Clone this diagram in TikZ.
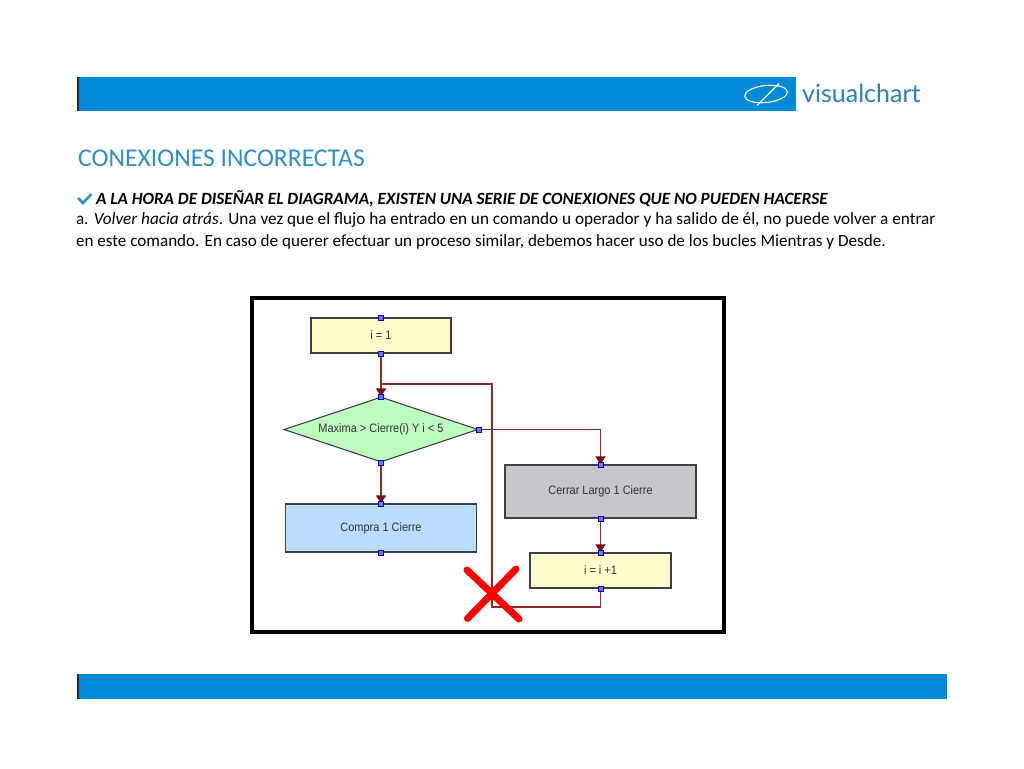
\documentclass[tikz,border=0pt]{standalone}
\usepackage{fontspec}
\setmainfont{Carlito}
\newfontfamily\flowfont[FakeStretch=0.9]{Liberation Sans}
\newfontfamily\logofont{Lato}
\usetikzlibrary{shapes.geometric,arrows.meta}
\definecolor{barblue}{HTML}{0089D6}
\definecolor{titleblue}{HTML}{2E8FCC}
\definecolor{conn}{HTML}{8E2A2E}
\definecolor{tip}{HTML}{7A0A0A}
\definecolor{yel}{HTML}{FFFCCB}
\definecolor{grn}{HTML}{BDFBC0}
\definecolor{lblue}{HTML}{B9DCFF}
\definecolor{gry}{HTML}{C6C7CC}
\tikzset{
  x=1pt,y=-1pt,
  bar/.style={fill=barblue,draw=none},
  flowbox/.style={draw=black!75,line width=1.1pt,inner sep=0pt,text=black!80,font=\flowfont\fontsize{12.2}{14}\selectfont},
  port/.style={draw=blue!75!black,fill=blue!55,line width=0.8pt,minimum size=5pt,inner sep=0pt,outer sep=0pt},
  wire/.style={draw=conn,line width=1.4pt},
  arrowwire/.style={wire,-{Triangle[length=8pt,width=10pt,fill=tip,color=tip]}},
  textline/.style={anchor=base west,inner sep=0pt,outer sep=0pt,font=\fontsize{17.2}{20}\selectfont},
}
\begin{document}
\begin{tikzpicture}
\useasboundingbox (0,0) rectangle (1024,768);
\fill[white] (0,0) rectangle (1024,768);
% header and footer bars
\fill[bar] (77,77) rectangle (796,110.5);
\fill[black!85] (77,77) rectangle (78.5,110.5);
\fill[bar] (77,674) rectangle (947,699);
\fill[black!85] (77,674) rectangle (78.5,699);
% logo
\draw[white,line width=1.1pt,rotate around={6:(766,94)}] (766,94) ellipse [x radius=21.5,y radius=8.5];
\draw[white,line width=1.2pt] (757,105.5) -- (779,83.5);
\node[anchor=base west,inner sep=0pt,text=titleblue!90!black,font=\logofont\fontsize{25}{30}\selectfont] (logotext) at (802,102) {visualchart};
% title and text
\node[anchor=base west,inner sep=0pt,text=titleblue,font=\fontsize{25.6}{30}\selectfont] (title) at (78,166) {CONEXIONES INCORRECTAS};
\draw[titleblue,line width=2.6pt] (78,198) -- (83,203) -- (91.5,194);
\node[textline,font=\fontsize{17.15}{20}\selectfont\bfseries\itshape] (head) at (96,204.5) {A LA HORA DE DISEÑAR EL DIAGRAMA, EXISTEN UNA SERIE DE CONEXIONES QUE NO PUEDEN HACERSE};
\node[textline] (line1) at (76,224.5) {a. \textit{Volver hacia atrás}. Una vez que el flujo ha entrado en un comando u operador y ha salido de él, no puede volver a entrar};
\node[textline,font=\fontsize{17.1}{20}\selectfont] (line2) at (76,246) {en este comando. En caso de querer efectuar un proceso similar, debemos hacer uso de los bucles Mientras y Desde.};
% frame
\draw[black,line width=4pt] (251.5,297.5) rectangle (723.5,631.5);
% flow shapes
\node[flowbox,fill=yel,minimum width=140pt,minimum height=35pt] (init) at (381,335.5) {i = 1};
\node[flowbox,fill=grn,diamond,aspect=3,minimum width=194pt,minimum height=65pt] (cond) at (381,429.5) {Maxima > Cierre(i) Y i < 5};
\node[flowbox,fill=lblue,minimum width=191pt,minimum height=48pt] (buy) at (381,528) {Compra 1 Cierre};
\node[flowbox,fill=gry,minimum width=191pt,minimum height=53pt] (close) at (600.5,491.5) {Cerrar Largo 1 Cierre};
\node[flowbox,fill=yel,minimum width=141pt,minimum height=35pt] (inc) at (600.5,570.5) {i = i +1};
% connectors
\coordinate (c1) at (cond.east -| close.north);
\coordinate (c2) at (600.5,607);
\coordinate (c3) at (492,607);
\coordinate (c4) at (492,384);
\coordinate (c5) at (381,384);
\draw[wire] (inc.south) -- (c2) -- (c3) -- (c4) -- (c5);
\draw[arrowwire] (init.south) -- (cond.north);
\draw[arrowwire] (cond.east) -- (c1) -- (close.north);
\draw[arrowwire] (cond.south) -- (buy.north);
\draw[arrowwire] (close.south) -- (inc.north);
% ports
\node[port] (p1) at (init.north) {};
\node[port] (p2) at (init.south) {};
\node[port] (p3) at (cond.north) {};
\node[port] (p4) at (cond.east) {};
\node[port] (p5) at (cond.south) {};
\node[port] (p6) at (buy.north) {};
\node[port] (p7) at (buy.south) {};
\node[port] (p8) at (close.north) {};
\node[port] (p9) at (close.south) {};
\node[port] (p10) at (inc.north) {};
\node[port] (p11) at (inc.south) {};
% red cross
\draw[red,line width=7pt,line cap=round] (467,570) -- (519,619);
\draw[red,line width=7pt,line cap=round] (516,569) -- (467.5,618.5);
\end{tikzpicture}
\end{document}
